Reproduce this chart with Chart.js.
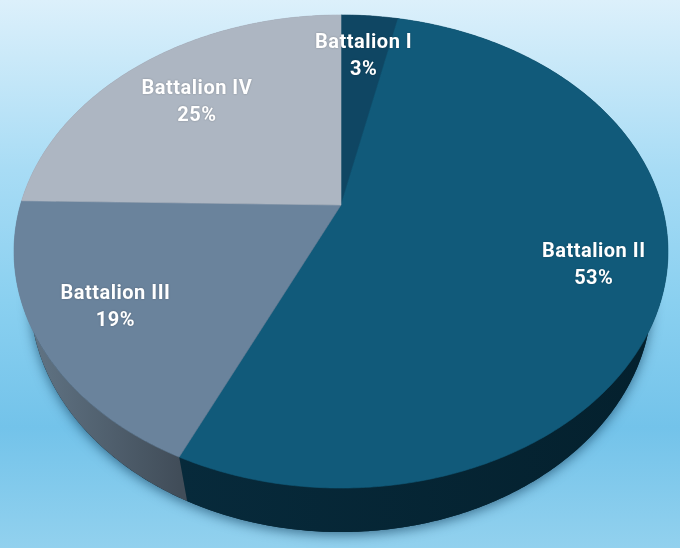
<!DOCTYPE html>
<html>
<head>
<meta charset="utf-8">
<title>Battalion share</title>
<style>
  html, body { margin: 0; padding: 0; }
  body {
    width: 680px; height: 548px; overflow: hidden;
    background: linear-gradient(180deg, #dcf0fb 0%, #a8dcf5 31%, #8ad0f0 55%, #73c3ea 78%, #92d1ee 100%);
  }
  canvas { display: block; }
</style>
</head>
<body>
<canvas id="chart" width="680" height="548"></canvas>
<script src="https://cdn.jsdelivr.net/npm/chart.js@4"></script>
<script>
const categories = ['Battalion I', 'Battalion II', 'Battalion III', 'Battalion IV'];
const shareValues = [3.4, 53.4, 18.5, 24.7];
const sliceColors = ['#0f4663', '#115a7a', '#6a839c', '#adb6c2'];
const sideColors = [['#0a2f42', '#0a2f42'], ['#072a3b', '#04202d'], ['#647889', '#414d59'], ['#7b828b', '#7b828b']];
const labelRadius = [0.76, 0.79, 0.765, 0.705];

// tilted disc: apex sits above the middle of the ellipse, so use a small perspective term
const tilt = { cx: 341, cy: 205, rx: 320.6, ry: 227.4, k: -0.1966 };
const side = { drop: 44, shrink: 0.951 };

function project(angle, r) {
  const u = Math.sin(angle) * r;
  const v = -Math.cos(angle) * r;
  const d = 1 + tilt.k * v;
  return { x: tilt.cx + tilt.rx * u / d, y: tilt.cy + tilt.ry * v / d };
}

function lower(p) {
  return { x: tilt.cx + (p.x - tilt.cx) * side.shrink, y: p.y + side.drop };
}

function rim(from, to) {
  const pts = [];
  const steps = Math.max(4, Math.ceil((to - from) / 0.01));
  for (let i = 0; i <= steps; i++) {
    pts.push(project(from + (to - from) * i / steps, 1));
  }
  return pts;
}

function tracePoints(ctx, pts) {
  pts.forEach((p, i) => (i ? ctx.lineTo(p.x, p.y) : ctx.moveTo(p.x, p.y)));
}

const tiltedPie = {
  id: 'tiltedPie',
  beforeDatasetDraw(chart, args) {
    const ctx = chart.ctx;
    const arcs = args.meta.data;

    ctx.save();
    // soft shadow below the disc
    ctx.save();
    ctx.shadowColor = 'rgba(0, 40, 70, 0.55)';
    ctx.shadowBlur = 12;
    ctx.shadowOffsetY = 3;
    ctx.fillStyle = '#05222f';
    ctx.beginPath();
    tracePoints(ctx, rim(0, Math.PI * 2).map(lower));
    ctx.closePath();
    ctx.fill();
    ctx.restore();

    // side wall
    arcs.forEach((arc, i) => {
      const from = arc.startAngle + Math.PI / 2;
      const to = arc.endAngle + Math.PI / 2;
      const top = rim(from, to);
      const xs = top.map(p => p.x);
      const g = ctx.createLinearGradient(Math.min(...xs), 0, Math.max(...xs), 0);
      g.addColorStop(0, sideColors[i][0]);
      g.addColorStop(1, sideColors[i][1]);
      ctx.fillStyle = g;
      ctx.beginPath();
      tracePoints(ctx, top);
      top.slice().reverse().map(lower).forEach(p => ctx.lineTo(p.x, p.y));
      ctx.closePath();
      ctx.fill();
    });

    // top face
    arcs.forEach((arc, i) => {
      const from = arc.startAngle + Math.PI / 2;
      const to = arc.endAngle + Math.PI / 2;
      ctx.fillStyle = sliceColors[i];
      ctx.strokeStyle = sliceColors[i];
      ctx.lineWidth = 0.6;
      ctx.beginPath();
      ctx.moveTo(tilt.cx, tilt.cy);
      rim(from, to).forEach(p => ctx.lineTo(p.x, p.y));
      ctx.closePath();
      ctx.fill();
      ctx.stroke();
    });
    ctx.restore();
    return false;
  },
  afterDatasetsDraw(chart) {
    const ctx = chart.ctx;
    const values = chart.data.datasets[0].data;
    const total = values.reduce((a, b) => a + b, 0);
    ctx.save();
    ctx.fillStyle = '#ffffff';
    ctx.textAlign = 'center';
    ctx.textBaseline = 'middle';
    ctx.font = 'bold 20px Roboto';
    ctx.letterSpacing = '0.5px';
    ctx.shadowColor = 'rgba(0, 0, 0, 0.25)';
    ctx.shadowBlur = 2;
    chart.getDatasetMeta(0).data.forEach((arc, i) => {
      const mid = (arc.startAngle + arc.endAngle) / 2 + Math.PI / 2;
      const p = project(mid, labelRadius[i]);
      ctx.fillText(categories[i], p.x, p.y - 12);
      ctx.fillText(Math.round(values[i] / total * 100) + '%', p.x, p.y + 15);
    });
    ctx.restore();
  }
};

new Chart(document.getElementById('chart'), {
  type: 'pie',
  data: {
    labels: categories,
    datasets: [{ data: shareValues, backgroundColor: sliceColors, borderWidth: 0 }]
  },
  options: {
    responsive: false,
    animation: false,
    plugins: { legend: { display: false }, tooltip: { enabled: false } }
  },
  plugins: [tiltedPie]
});
</script>
</body>
</html>
